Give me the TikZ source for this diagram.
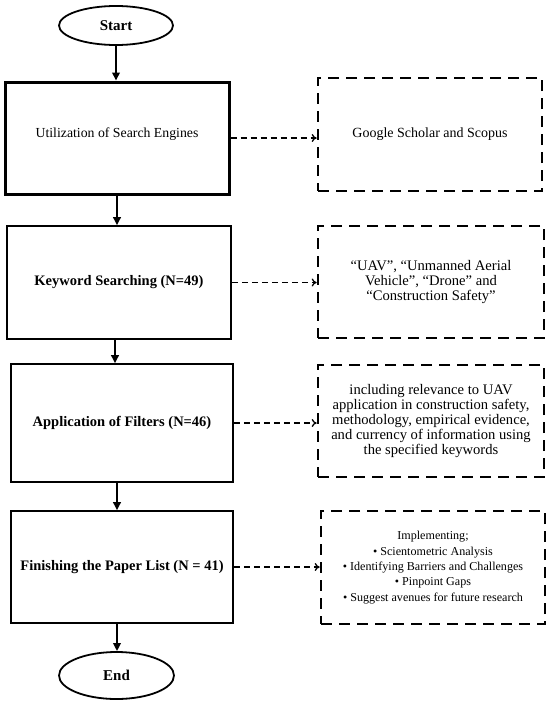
\documentclass[tikz,border=0pt]{standalone}
\usepackage{fontspec}
\setmainfont{Liberation Serif}
\usetikzlibrary{shapes.geometric,arrows.meta}
\begin{document}
\begin{tikzpicture}[x=1pt,y=-1pt,
  mainbox/.style={draw,line width=1.6pt,rectangle,align=center,inner sep=2pt,font=\fontsize{14.5}{17}\selectfont\bfseries},
  term/.style={draw,line width=1.8pt,ellipse,inner sep=0pt,font=\fontsize{15}{17}\selectfont\bfseries},
  sidebox/.style={draw,line width=2.6pt,dash pattern=on 11pt off 7pt,rectangle,align=center,inner sep=2pt,font=\fontsize{14.6}{15}\selectfont},
  flow/.style={line width=2.6pt,-{Triangle[length=8pt,width=7.5pt]}},
  link/.style={line width=1.3pt,dash pattern=on 6pt off 4pt,-{To[length=5pt,width=8pt]}}
]
\useasboundingbox (0,0) rectangle (550,704);
\node[term,minimum width=114pt,minimum height=39pt] (start) at (116,25.5) {Start};
\node[mainbox,line width=3pt,font=\fontsize{13.8}{17}\selectfont,minimum width=224pt,minimum height=112pt] (b1) at (117,138) {\raisebox{4pt}[\height][\depth]{Utilization of Search Engines}};
\node[mainbox,minimum width=224pt,minimum height=113pt] (b2) at (119,282.5) {Keyword Searching (N=49)};
\node[mainbox,minimum width=222pt,minimum height=118pt] (b3) at (122,423) {Application of Filters (N=46)};
\node[mainbox,minimum width=222pt,minimum height=112pt] (b4) at (122,567) {Finishing the Paper List (N = 41)};
\node[term,minimum width=115pt,minimum height=47pt] (end) at (116.5,675.5) {End};

\node[sidebox,font=\fontsize{14}{15}\selectfont,minimum width=224pt,minimum height=113pt] (r1) at (430,134.5) {Google Scholar and Scopus};
\node[sidebox,minimum width=226pt,minimum height=112pt] (r2) at (431,282) {``UAV'', ``Unmanned Aerial\\Vehicle'', ``Drone'' and\\``Construction Safety''};
\node[sidebox,minimum width=226pt,minimum height=112pt] (r3) at (431,421) {including relevance to UAV\\application in construction safety,\\methodology, empirical evidence,\\and currency of information using\\the specified keywords};
\node[sidebox,font=\fontsize{12.1}{15.3}\selectfont,minimum width=224pt,minimum height=113pt] (r4) at (433,567.5) {Implementing;\\\textbullet{} Scientometric Analysis\\\textbullet{} Identifying Barriers and Challenges\\\textbullet{} Pinpoint Gaps\\\textbullet{} Suggest avenues for future research};

\draw[flow] (start.south) -- (start.south |- b1.north);
\draw[flow] (b1.south) -- (b1.south |- b2.north);
\draw[flow] ([xshift=-4pt]b2.south) -- ([xshift=-4pt]b2.south |- b3.north);
\draw[flow] ([xshift=-5pt]b3.south) -- ([xshift=-5pt]b3.south |- b4.north);
\draw[flow] ([xshift=-5pt]b4.south) -- ([xshift=-5pt]b4.south |- end.north);

\draw[link] (b1.east) -- (b1.east -| r1.west);
\draw[link] (b2.east) -- (b2.east -| r2.west);
\draw[link] (b3.east) -- (b3.east -| r3.west);
\draw[link] (b4.east) -- (b4.east -| r4.west);
\end{tikzpicture}
\end{document}
